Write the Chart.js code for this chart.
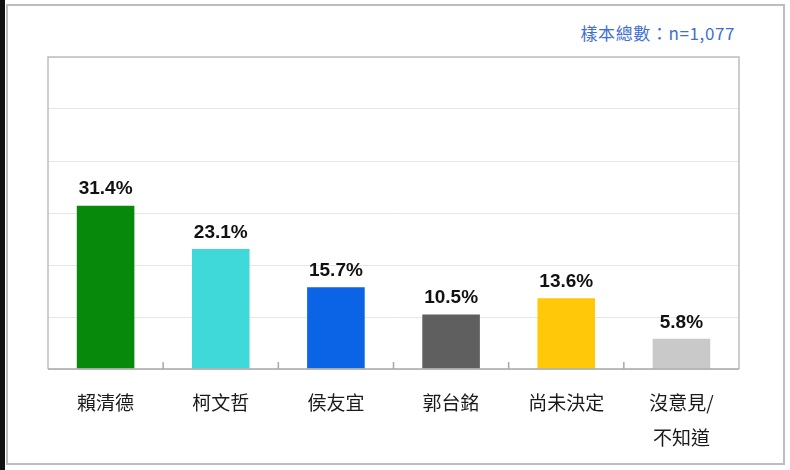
<!DOCTYPE html>
<html>
<head>
<meta charset="utf-8">
<script src="https://cdn.jsdelivr.net/npm/chart.js@4"></script>
<style>
  html, body { margin: 0; padding: 0; background: #fff; }
  #wrap { position: relative; width: 790px; height: 470px; overflow: hidden; }
  #edge { position: absolute; left: 0; top: 0; width: 5px; height: 470px; background: #111; }
  #frame { position: absolute; left: 6px; top: 4px; width: 775px; height: 457px; border: 2px solid #bdbdbd; }
  #note { position: absolute; right: 55px; top: 20px; color: #3f6fd3; letter-spacing: 0.6px;
          font: 17px "Noto Sans CJK TC", "Noto Sans", sans-serif; }
  #c { position: absolute; left: 0; top: 0; }
</style>
</head>
<body>
<div id="wrap">
  <div id="edge"></div>
  <div id="frame"></div>
  <div id="note">樣本總數：n=1,077</div>
  <canvas id="c" width="790" height="470"></canvas>
</div>
<script>
var candidates = ['賴清德', '柯文哲', '侯友宜', '郭台銘', '尚未決定', ['沒意見/', '不知道']];
var support = [31.4, 23.1, 15.7, 10.5, 13.6, 5.8];
var barColors = ['#078a0c', '#40d9da', '#0b63e6', '#5f5f5f', '#ffc90a', '#c9c9c9'];

// value labels above the bars
var valueLabels = {
  id: 'valueLabels',
  afterDatasetsDraw: function (chart) {
    var ctx = chart.ctx;
    var meta = chart.getDatasetMeta(0);
    ctx.save();
    ctx.fillStyle = '#111';
    ctx.font = 'bold 19px "Liberation Sans", Arial, sans-serif';
    ctx.textAlign = 'center';
    ctx.textBaseline = 'bottom';
    meta.data.forEach(function (bar, i) {
      ctx.fillText(support[i].toFixed(1) + '%', bar.x, bar.y - 7);
    });
    ctx.restore();
  }
};

// box round the plot and small inner ticks between categories
var plotBox = {
  id: 'plotBox',
  afterDraw: function (chart) {
    var a = chart.chartArea;
    var ctx = chart.ctx;
    var x = chart.scales.x;
    ctx.save();
    ctx.strokeStyle = '#bdbdbd';
    ctx.lineWidth = 1.5;
    ctx.beginPath();
    ctx.moveTo(a.left, a.bottom);
    ctx.lineTo(a.left, a.top);
    ctx.lineTo(a.right, a.top);
    ctx.lineTo(a.right, a.bottom);
    ctx.stroke();
    ctx.strokeStyle = '#a8a8a8';
    ctx.beginPath();
    ctx.moveTo(a.left, a.bottom);
    ctx.lineTo(a.right, a.bottom);
    for (var i = 1; i < candidates.length; i++) {
      var px = (x.getPixelForValue(i - 1) + x.getPixelForValue(i)) / 2;
      ctx.moveTo(px, a.bottom);
      ctx.lineTo(px, a.bottom - 7);
    }
    ctx.stroke();
    ctx.restore();
  }
};

new Chart(document.getElementById('c'), {
  type: 'bar',
  data: {
    labels: candidates,
    datasets: [{
      data: support,
      backgroundColor: barColors,
      borderWidth: 0,
      categoryPercentage: 1,
      barPercentage: 0.5
    }]
  },
  options: {
    responsive: false,
    animation: false,
    layout: { padding: { left: 48, right: 51, top: 57, bottom: 0 } },
    plugins: { legend: { display: false }, tooltip: { enabled: false } },
    scales: {
      x: {
        grid: { display: false },
        border: { display: false },
        ticks: {
          color: '#1a1a1a',
          padding: 8,
          font: { family: '"Noto Sans CJK TC", sans-serif', size: 19, lineHeight: 1.84 }
        },
        afterFit: function (s) { s.height = 101; }
      },
      y: {
        min: 0,
        max: 60,
        ticks: { display: false, stepSize: 10 },
        grid: { color: '#e6e6e6', drawTicks: false, lineWidth: 1 },
        border: { display: false }
      }
    }
  },
  plugins: [valueLabels, plotBox]
});
</script>
</body>
</html>
